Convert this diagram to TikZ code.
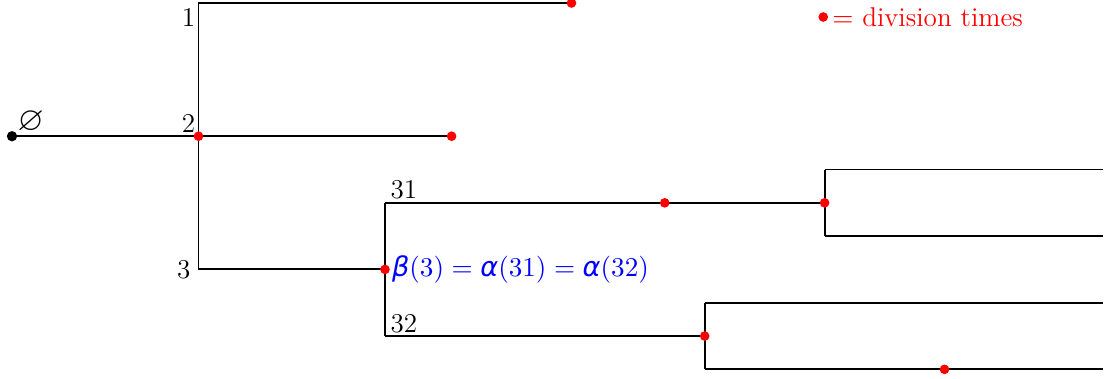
\RequirePackage{fix-cm}
\documentclass[tikz,border=0pt,11pt]{standalone}
\usepackage{amssymb}
\usepackage{fontspec}
\newfontfamily\grk{DejaVu Sans}
\usetikzlibrary{positioning}

\tikzset{
  every node/.style={font=\fontsize{11.6}{14}\selectfont},
  divdot/.style={circle, fill=red, inner sep=0pt, minimum size=1.45mm},
  rootdot/.style={circle, fill=black, inner sep=0pt, minimum size=1.55mm},
  lbl/.style={inner sep=1pt}
}

\begin{document}
\begin{tikzpicture}[thick]
  \useasboundingbox (-0.18,-5.635) rectangle (16.47,0.045);
  \coordinate (o) at (0,-2);
  \coordinate (v2) at (2.8,-2);
  \coordinate (v1) at (2.8,0);
  \coordinate (v3) at (2.8,-4);
  \coordinate (e1) at (8.4,0);
  \coordinate (e2) at (6.6,-2);
  \coordinate (d3) at (5.6,-4);
  \coordinate (v31) at (5.6,-3);
  \coordinate (v32) at (5.6,-5);
  \coordinate (m31) at (9.8,-3);
  \coordinate (d31) at (12.2,-3);
  \coordinate (d32) at (10.4,-5);
  \coordinate (v311) at (12.2,-2.5);
  \coordinate (v312) at (12.2,-3.5);
  \coordinate (e311) at (16.38,-2.5);
  \coordinate (e312) at (16.38,-3.5);
  \coordinate (v321) at (10.4,-4.5);
  \coordinate (v322) at (10.4,-5.5);
  \coordinate (e321) at (16.38,-4.5);
  \coordinate (e322) at (16.38,-5.5);
  \coordinate (m322) at (14,-5.5);

  \draw (o) -- (e2);
  \draw (v1) -- (v3);
  \draw (v1) -- (e1);
  \draw (v3) -- (d3);
  \draw (v31) -- (v32);
  \draw (v31) -- (d31);
  \draw (v32) -- (d32);
  \draw (v311) -- (v312);
  \draw (v311) -- (e311);
  \draw (v312) -- (e312);
  \draw (v321) -- (v322);
  \draw (v321) -- (e321);
  \draw (v322) -- (e322);

  \node[rootdot] (root) at (o) {};
  \node[divdot] at (v2) {};
  \node[divdot] at (e1) {};
  \node[divdot] at (e2) {};
  \node[divdot] at (d3) {};
  \node[divdot] at (m31) {};
  \node[divdot] at (d31) {};
  \node[divdot] at (d32) {};
  \node[divdot] at (m322) {};

  \node[lbl, anchor=south west, font=\Large] (nroot) at ([xshift=1pt]o) {$\varnothing$};
  \node[lbl, anchor=north east] (n1) at ([yshift=-1pt]v1) {1};
  \node[lbl, anchor=south east] (n2) at (v2) {2};
  \node[lbl, anchor=east] (n3) at ([xshift=-2pt]v3) {3};
  \node[lbl, anchor=south west] (n31) at ([xshift=1pt]v31) {31};
  \node[lbl, anchor=south west] (n32) at ([xshift=1pt]v32) {32};
  \node[blue, right=-1pt of d3] (eq) {{\grk\itshape β}$(3)={}${\grk\itshape α}$(31)={}${\grk\itshape α}$(32)$};

  \node[divdot] (key) at (12.18,-0.21) {};
  \node[red, right=0pt of key, inner sep=1pt] (keytext) {$=$ division times};
\end{tikzpicture}
\end{document}
